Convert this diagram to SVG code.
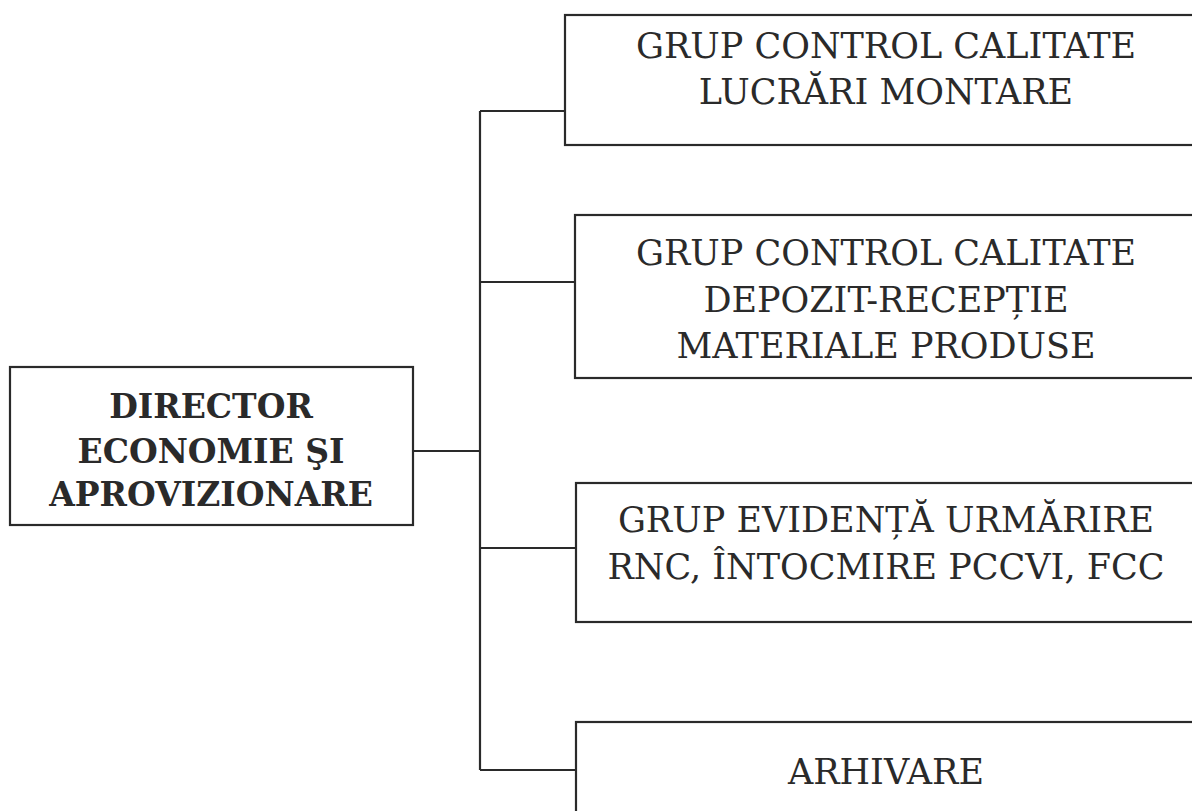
<svg xmlns="http://www.w3.org/2000/svg" width="1192" height="811" viewBox="0 0 1192 811">
<style>
.box{fill:#ffffff;stroke:#2a2a2a;stroke-width:2.2}
.ln{fill:none;stroke:#2a2a2a;stroke-width:2.2}
.t{font-family:"DejaVu Serif","Liberation Serif",serif;font-size:35px;fill:#2a2a2a;text-anchor:middle}
.b{font-family:"DejaVu Serif","Liberation Serif",serif;font-size:33px;font-weight:bold;fill:#2a2a2a;text-anchor:middle}
</style>
<rect width="1192" height="811" fill="#ffffff"/>
<g id="connectors">
<line class="ln" x1="413" y1="451" x2="480" y2="451"/>
<line class="ln" x1="480" y1="111" x2="480" y2="770"/>
<line class="ln" x1="480" y1="111" x2="565" y2="111"/>
<line class="ln" x1="480" y1="282" x2="575" y2="282"/>
<line class="ln" x1="480" y1="548" x2="576" y2="548"/>
<line class="ln" x1="480" y1="770" x2="576" y2="770"/>
</g>
<g id="director">
<rect class="box" x="10" y="367" width="403" height="158"/>
<text class="b" x="211" y="418">DIRECTOR</text>
<text class="b" x="211" y="463">ECONOMIE ŞI</text>
<text class="b" x="211" y="506">APROVIZIONARE</text>
</g>
<g id="grup-lucrari">
<rect class="box" x="565" y="15" width="640" height="130"/>
<text class="t" x="886" y="58">GRUP CONTROL CALITATE</text>
<text class="t" x="886" y="104">LUCRĂRI MONTARE</text>
</g>
<g id="grup-depozit">
<rect class="box" x="575" y="215" width="630" height="163"/>
<text class="t" x="886" y="265">GRUP CONTROL CALITATE</text>
<text class="t" x="886" y="312">DEPOZIT-RECEPȚIE</text>
<text class="t" x="886" y="358">MATERIALE PRODUSE</text>
</g>
<g id="grup-evidenta">
<rect class="box" x="576" y="483" width="630" height="139"/>
<text class="t" x="886" y="532">GRUP EVIDENȚĂ URMĂRIRE</text>
<text class="t" x="886" y="579">RNC, ÎNTOCMIRE PCCVI, FCC</text>
</g>
<g id="arhivare">
<rect class="box" x="576" y="722" width="630" height="100"/>
<text class="t" x="886" y="784">ARHIVARE</text>
</g>
</svg>
